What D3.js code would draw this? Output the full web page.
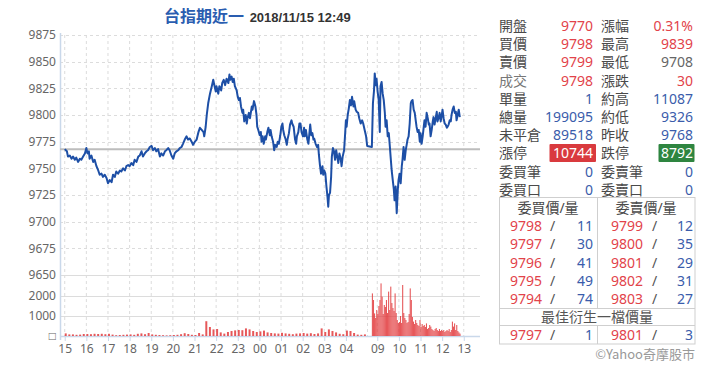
<!DOCTYPE html>
<html><head><meta charset="utf-8">
<script src="https://cdn.jsdelivr.net/npm/d3@7"></script>
<style>
html,body{margin:0;padding:0;background:#fff;}
svg{display:block;}
text{font-family:"Noto Sans","Noto Sans CJK TC",sans-serif;}
</style></head><body>
<svg id="c" width="720" height="367"></svg>
<script>
// ---------------- DATA ----------------
const titleName = "台指期近一";
const titleTime = "2018/11/15 12:49";
const priceTicks = [9650, 9675, 9700, 9725, 9750, 9775, 9800, 9825, 9850, 9875];
const volTicks = [0, 1000, 2000];
const volTickLabels = ["□", "1000", "2000"];
const nightTickLabels = ["15","16","17","18","19","20","21","22","23","00","01","02","03","04"];
const dayTickLabels = ["09","10","11","12","13"];
const prevClose = 9768;

// night session: minutes after 15:00
const nightOffsets = [0,6,9,14,19,23,28,32,37,42,46,51,56,60,63,67,69,74,79,83,88,93,97,102,106,111,116,120,125,130,134,139,143,148,153,157,162,167,171,176,180,185,190,194,199,204,208,213,217,222,227,231,236,241,245,250,254,259,264,268,273,278,282,287,291,296,301,305,310,315,319,324,328,333,338,342,347,352,356,
361,366,371,375,380,385,387,391,394,398,403,408,412,415,419,421,426,429,434,437,441,445,449,454,457,459,463,466,469,472,477,480,483,486,489,493,495,498,502,505,507,511,514,519,521,525,529,532,534,537,541,544,546,549,552,556,558,562,565,569,571,574,578,581,584,588,591,594,598,601,604,606,609,613,616,618,622,625,629,631,635,639,642,644,648,651,654,657,661,664,666,669,673,676,679,681,684,687,690,692,696,700,703,705,708,711,715,717,720,723,726,729,731,733,736,
739,741,744,747,750,753,756,759,762,766,768,771,775,778,780,782,785,788,791,794,797,801,803,807,810,814,817,821,825,828,832,836,839];
const nightPrices = [9768,9766,9761,9762,9759,9761,9758,9760,9756,9759,9758,9761,9764,9769,9764,9766,9759,9762,9756,9758,9752,9748,9744,9745,9742,9744,9741,9736,9739,9737,9744,9742,9747,9745,9748,9747,9750,9748,9752,9753,9752,9755,9753,9758,9756,9761,9762,9766,9761,9764,9766,9767,9770,9771,9767,9769,9766,9768,9761,9764,9762,9766,9767,9769,9767,9762,9759,9764,9766,9767,9769,9770,9773,9777,9780,9777,9778,9775,9772,
9775,9777,9784,9788,9786,9784,9780,9789,9800,9811,9820,9827,9833,9828,9822,9827,9820,9827,9823,9830,9833,9828,9834,9830,9838,9833,9836,9831,9834,9827,9823,9817,9814,9816,9808,9802,9805,9794,9800,9792,9797,9802,9797,9808,9805,9813,9808,9800,9789,9786,9781,9784,9775,9780,9773,9780,9777,9784,9788,9781,9786,9780,9775,9767,9772,9770,9775,9773,9781,9789,9792,9786,9781,9777,9772,9777,9783,9791,9795,9792,9789,9777,9773,9780,9784,9792,9792,9784,9780,9788,9780,9786,9777,9773,9784,9791,9781,9783,9777,9778,9773,9770,9772,9763,9753,9745,9752,9744,9748,9745,9733,9723,9714,9725,9727,
9742,9761,9769,9766,9758,9767,9761,9755,9764,9758,9752,9761,9767,9783,9795,9789,9800,9806,9814,9809,9817,9808,9813,9805,9803,9802,9797,9792,9795,9792,9786,9780,9771];

// day session: minutes after 08:45
const dayOffsets = [0,3,6,8,11,13,16,19,22,24,27,30,33,36,38,41,44,47,50,52,55,58,61,63,66,69,72,74,77,80,83,85,88,91,94,97,99,102,105,108,110,113,116,119,122,124,127,130,133,135,138,141,144,146,149,152,155,158,160,163,166,169,171,174,177,180,182,185,188,191,194,196,199,202,205,208,210,213,216,219,221,224,227,230,233,235,238,241,244];
const dayPrices = [9770,9811,9823,9839,9828,9834,9822,9814,9784,9827,9831,9820,9814,9802,9789,9795,9780,9783,9770,9761,9748,9739,9730,9720,9733,9708,9730,9739,9745,9736,9752,9758,9770,9758,9767,9773,9777,9780,9792,9811,9813,9814,9805,9802,9794,9789,9784,9786,9775,9783,9773,9780,9789,9795,9789,9802,9797,9791,9792,9780,9786,9794,9798,9791,9797,9803,9794,9797,9802,9794,9800,9805,9797,9792,9791,9788,9789,9791,9795,9794,9800,9805,9808,9802,9803,9795,9800,9805,9798];

// volume: night in 10-minute buckets from 15:00, day in 3-minute buckets from 08:45
const nightVolStep = 10;
const nightVolumes = [130,80,80,60,70,100,100,90,110,100,110,90,110,70,40,50,60,70,80,60,110,130,90,150,80,60,50,40,30,40,50,60,90,140,100,60,50,150,80,740,450,330,350,180,120,200,250,280,300,290,380,330,250,200,230,270,180,150,130,120,160,130,110,90,120,130,150,120,140,100,130,380,200,330,250,180,110,90,270,250,150,70,60,80];
const dayVolStep = 3;
const dayVolumes = [2130,1800,1130,900,1300,1100,1500,1800,2630,1970,1100,1550,1450,1800,1150,2220,1300,2470,1650,1400,1250,2130,1150,800,650,700,1000,650,2550,1150,900,800,650,700,1100,2380,1800,950,720,600,800,650,550,500,800,450,600,500,550,450,630,350,400,550,470,350,300,250,350,400,300,250,350,250,300,250,300,200,250,300,250,350,200,300,720,470,630,300,550,250,180,120];

// quote panel
const quoteLeftLabels  = ["開盤","買價","賣價","成交","單量","總量","未平倉","漲停","委買筆","委買口"];
const quoteLeftValues  = ["9770","9798","9799","9798","1","199095","89518","10744","0","0"];
const quoteLeftKinds   = ["up","up","up","up","info","info","info","limitUp","info","info"];
const quoteRightLabels = ["漲幅","最高","最低","漲跌","約高","約低","昨收","跌停","委賣筆","委賣口"];
const quoteRightValues = ["0.31%","9839","9708","30","11087","9326","9768","8792","0","0"];
const quoteRightKinds  = ["up","up","flat","up","info","info","info","limitDown","info","info"];
const bookHeaders = ["委買價/量","委賣價/量"];
const bidPrices = [9798,9797,9796,9795,9794];
const bidQty    = [11,30,41,49,74];
const askPrices = [9799,9800,9801,9802,9803];
const askQty    = [12,35,29,31,27];
const bestTitle = "最佳衍生一檔價量";
const bestBid = [9797, 1];
const bestAsk = [9801, 3];
const credit = "©Yahoo奇摩股市";

// ---------------- CHART ----------------
const svg = d3.select("#c");
const DAY_START = 14.2; // axis position (hours after 15:00) of 08:45
const nightT = m => m / 60;
const dayT = m => DAY_START + m / 60;

const x = d3.scaleLinear().domain([-0.2, 19.2]).range([60.4, 480]);
const yP = d3.scaleLinear().domain([9650, 9875]).range([275, 35]);
const yV = d3.scaleLinear().domain([0, 2800]).range([336, 280]);

const gridColor = "#dcdcdc";
const tickTs = nightTickLabels.map((_, i) => i).concat(dayTickLabels.map(h => dayT((+h - 8.75) * 60)));
const tickLabels = nightTickLabels.concat(dayTickLabels);
const gridTs = tickTs.concat([14]);

// vertical grid
svg.append("g").selectAll("line").data(gridTs).join("line")
  .attr("x1", d => x(d)).attr("x2", d => x(d))
  .attr("y1", yP(9875)).attr("y2", yV(0))
  .attr("stroke", gridColor).attr("stroke-dasharray", "3,3").attr("stroke-width", 1);

// horizontal price grid
svg.append("g").selectAll("line").data(priceTicks).join("line")
  .attr("x1", 60).attr("x2", 480)
  .attr("y1", d => Math.round(yP(d)) + 0.5).attr("y2", d => Math.round(yP(d)) + 0.5)
  .attr("stroke", gridColor)
  .attr("stroke-dasharray", d => d === 9650 ? null : "3,3");

// volume grid
svg.append("g").selectAll("line").data(volTicks.filter(d => d > 0)).join("line")
  .attr("x1", 60).attr("x2", 480)
  .attr("y1", d => Math.round(yV(d)) + 0.5).attr("y2", d => Math.round(yV(d)) + 0.5)
  .attr("stroke", gridColor);

// axes
const axisColor = "#c9d8ea";
const gY = svg.append("g").attr("transform", "translate(60,0)")
  .call(d3.axisLeft(yP).tickValues(priceTicks).tickSize(0).tickPadding(4).tickFormat(d3.format("d")));
gY.select(".domain").remove();
const gYV = svg.append("g").attr("transform", "translate(60,0)")
  .call(d3.axisLeft(yV).tickValues(volTicks).tickSize(0).tickPadding(4).tickFormat((d, i) => volTickLabels[i]));
gYV.select(".domain").remove();
[gY, gYV].forEach(g => g.selectAll("text").attr("fill", "#666").style("font-size", "12px").style("font-family", "'Noto Sans',sans-serif"));

svg.append("line").attr("x1", 60.5).attr("x2", 60.5).attr("y1", 33).attr("y2", 340)
  .attr("stroke", axisColor).attr("stroke-width", 1.5);

const gX = svg.append("g").attr("transform", `translate(0,${yV(0)})`)
  .call(d3.axisBottom(x).tickValues(tickTs).tickSize(5).tickPadding(3).tickFormat((d, i) => tickLabels[i]));
gX.select(".domain").attr("d", `M60,0.5H480`).attr("stroke", axisColor).attr("stroke-width", 1.5);
gX.selectAll(".tick line").attr("stroke", axisColor);
gX.selectAll("text").attr("fill", "#666").style("font-size", "12px").style("font-family", "'Noto Sans',sans-serif");

// volume bars
const volData = nightVolumes.map((v, i) => ({t0: nightT(i * nightVolStep), t1: nightT((i + 1) * nightVolStep), v, w: 0.55}))
  .concat(dayVolumes.map((v, i) => ({t0: dayT(i * dayVolStep), t1: dayT((i + 1) * dayVolStep), v, w: 1})));
svg.append("g").selectAll("rect").data(volData).join("rect")
  .attr("x", d => x(d.t0))
  .attr("width", d => Math.max(0.8, (x(d.t1) - x(d.t0)) * d.w))
  .attr("y", d => yV(d.v)).attr("height", d => yV(0) - yV(d.v))
  .attr("fill", "#e23b3d").attr("opacity", 0.85);

// prev close line
svg.append("line").attr("x1", 60).attr("x2", 480)
  .attr("y1", yP(prevClose)).attr("y2", yP(prevClose))
  .attr("stroke", "#bdbdbd").attr("stroke-width", 2);

// price line
const pts = nightOffsets.map((m, i) => [nightT(m), nightPrices[i]])
  .concat(dayOffsets.map((m, i) => [dayT(m), dayPrices[i]]));
svg.append("path").datum(pts)
  .attr("d", d3.line().x(d => x(d[0])).y(d => yP(d[1])))
  .attr("fill", "none").attr("stroke", "#1d4fa6").attr("stroke-width", 2).attr("stroke-linejoin", "round");

// title
const title = svg.append("text").attr("x", 164).attr("y", 22);
title.append("tspan").text(titleName)
  .style("font-family", "'Noto Sans CJK TC',sans-serif").style("font-size", "16px").style("font-weight", "bold").attr("fill", "#2a5db0");
title.append("tspan").text(" " + titleTime).attr("dx", 2)
  .style("font-family", "'Liberation Sans',Arial,sans-serif").style("font-size", "13px").style("font-weight", "bold").attr("fill", "#333");

// quote panel
const cjk = "'Noto Sans CJK TC',sans-serif";
const red = "#e2434a", blue = "#3a5cab", lab = "#4a4a4a";
const kindColor = k => k === "up" ? red : k === "info" ? blue : k === "flat" ? "#666" : "#fff";
const rowY = i => 26 + i * 18.2 + 5;
const qp = svg.append("g").style("font-family", cjk).style("font-size", "14px");
quoteLeftLabels.forEach((t, i) => {
  qp.append("text").attr("x", 499).attr("y", rowY(i)).attr("fill", t === "成交" ? "#777" : lab).text(t);
  qp.append("text").attr("x", 601).attr("y", rowY(i)).attr("fill", lab).text(quoteRightLabels[i]);
  if (quoteLeftKinds[i] === "limitUp") {
    qp.append("rect").attr("x", 549.5).attr("y", 144).attr("width", 46.5).attr("height", 18).attr("fill", "#d93a3e").attr("rx", 1);
  }
  if (quoteRightKinds[i] === "limitDown") {
    qp.append("rect").attr("x", 658.5).attr("y", 144).attr("width", 36).attr("height", 18).attr("fill", "#2e8540").attr("rx", 1);
  }
  qp.append("text").attr("x", 593).attr("y", rowY(i)).attr("text-anchor", "end").attr("fill", kindColor(quoteLeftKinds[i])).text(quoteLeftValues[i]);
  qp.append("text").attr("x", 693).attr("y", rowY(i)).attr("text-anchor", "end").attr("fill", kindColor(quoteRightKinds[i])).text(quoteRightValues[i]);
});

// order book table
const tb = svg.append("g").style("font-family", cjk).style("font-size", "14px");
const bc = "#cfcfcf";
tb.append("rect").attr("x", 499.5).attr("y", 197.5).attr("width", 195.5).attr("height", 146.5).attr("fill", "none").attr("stroke", bc);
tb.append("line").attr("x1", 597.5).attr("x2", 597.5).attr("y1", 197.5).attr("y2", 308.5).attr("stroke", bc);
tb.append("line").attr("x1", 597.5).attr("x2", 597.5).attr("y1", 325.5).attr("y2", 344).attr("stroke", bc);
tb.append("line").attr("x1", 499.5).attr("x2", 695).attr("y1", 308.5).attr("y2", 308.5).attr("stroke", bc);
tb.append("line").attr("x1", 499.5).attr("x2", 695).attr("y1", 325.5).attr("y2", 325.5).attr("stroke", bc);
tb.append("text").attr("x", 548).attr("y", rowY(10)).attr("text-anchor", "middle").attr("fill", lab).text(bookHeaders[0]);
tb.append("text").attr("x", 646).attr("y", rowY(10)).attr("text-anchor", "middle").attr("fill", lab).text(bookHeaders[1]);
const bookRow = (i, bp, bq, ap, aq) => {
  tb.append("text").attr("x", 510).attr("y", rowY(i)).attr("fill", red).text(bp);
  tb.append("text").attr("x", 550).attr("y", rowY(i)).attr("fill", "#555").text("/");
  tb.append("text").attr("x", 593).attr("y", rowY(i)).attr("text-anchor", "end").attr("fill", blue).text(bq);
  tb.append("text").attr("x", 611).attr("y", rowY(i)).attr("fill", red).text(ap);
  tb.append("text").attr("x", 652).attr("y", rowY(i)).attr("fill", "#555").text("/");
  tb.append("text").attr("x", 693).attr("y", rowY(i)).attr("text-anchor", "end").attr("fill", blue).text(aq);
};
bidPrices.forEach((p, i) => bookRow(11 + i, p, bidQty[i], askPrices[i], askQty[i]));
tb.append("text").attr("x", 597).attr("y", rowY(16)).attr("text-anchor", "middle").attr("fill", "#555").text(bestTitle);
bookRow(17, bestBid[0], bestBid[1], bestAsk[0], bestAsk[1]);
svg.append("text").attr("x", 695).attr("y", rowY(18)).attr("text-anchor", "end")
  .style("font-family", cjk).style("font-size", "13px").attr("fill", "#999").text(credit);
</script>
</body></html>
